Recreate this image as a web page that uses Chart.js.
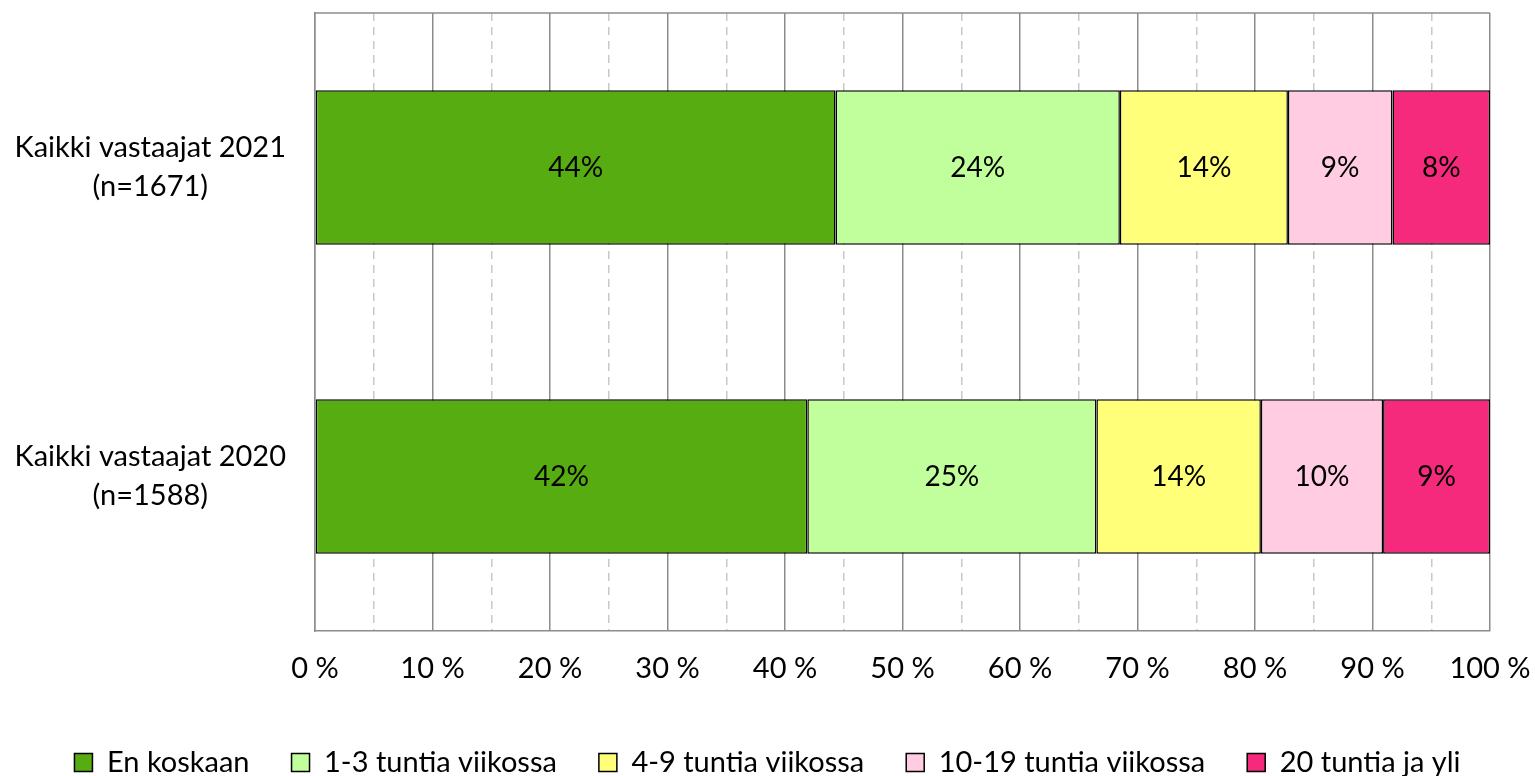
<!DOCTYPE html>
<html>
<head>
<meta charset="utf-8">
<script src="https://cdn.jsdelivr.net/npm/chart.js@4/dist/chart.umd.min.js"></script>
<style>
  html, body { margin: 0; padding: 0; background: #fff; overflow: hidden; }
  #wrap { width: 1535px; height: 776px; }
</style>
</head>
<body>
<div id="wrap"><canvas id="chart" width="1535" height="776"></canvas></div>
<script>
// Kategoriat (rivit)
const categories = [
  ["Kaikki vastaajat 2021", "(n=1671)"],
  ["Kaikki vastaajat 2020", "(n=1588)"],
];

// Sarjat
const seriesNames = [
  "En koskaan",
  "1-3 tuntia viikossa",
  "4-9 tuntia viikossa",
  "10-19 tuntia viikossa",
  "20 tuntia ja yli",
];
const enKoskaan = [44.3, 41.9];
const tunti1_3 = [24.2, 24.6];
const tunti4_9 = [14.3, 14.0];
const tunti10_19 = [8.9, 10.4];
const tunti20 = [8.3, 9.1];

const seriesColors = ["#56ac10", "#c0ff9b", "#ffff7a", "#ffcce1", "#f52a7c"];

const FONT = "Lato, 'Open Sans', sans-serif";

const datasets = [enKoskaan, tunti1_3, tunti4_9, tunti10_19, tunti20].map((d, i) => ({
  label: seriesNames[i],
  data: d,
  backgroundColor: seriesColors[i],
  borderColor: "#000",
  borderWidth: 1.5,
  borderSkipped: false,
  categoryPercentage: 1,
  barPercentage: 0.5,
}));

// Arvot palkkien keskelle
const barLabels = {
  id: "barLabels",
  afterDatasetsDraw(chart) {
    const ctx = chart.ctx;
    ctx.save();
    ctx.font = "28px " + FONT;
    ctx.fillStyle = "#000";
    ctx.textAlign = "center";
    ctx.textBaseline = "middle";
    chart.data.datasets.forEach((ds, i) => {
      chart.getDatasetMeta(i).data.forEach((bar, j) => {
        const p = bar.getCenterPoint();
        ctx.fillText(Math.round(ds.data[j]) + "%", p.x, p.y);
      });
    });
    ctx.restore();
  },
};

// Kuva-alueen yläreuna
const topBorder = {
  id: "topBorder",
  beforeDatasetsDraw(chart) {
    const { ctx, chartArea } = chart;
    ctx.save();
    ctx.strokeStyle = "#8c8c8c";
    ctx.lineWidth = 1.5;
    ctx.beginPath();
    ctx.moveTo(chartArea.left, chartArea.top);
    ctx.lineTo(chartArea.right, chartArea.top);
    ctx.stroke();
    ctx.restore();
  },
};

// Selite matalammaksi (väli selitteiden välillä pysyy leveänä)
const legendHeight = {
  id: "legendHeight",
  beforeLayout(chart) {
    const lg = chart.legend;
    if (!lg || lg._patched) return;
    const fit = lg.fit;
    lg.fit = function () {
      fit.call(this);
      this.height = 70;
    };
    lg._patched = true;
  },
};

new Chart(document.getElementById("chart"), {
  type: "bar",
  data: { labels: categories, datasets },
  options: {
    indexAxis: "y",
    responsive: false,
    animation: false,
    layout: { padding: { top: 13, right: 0, left: 0, bottom: 0 } },
    plugins: {
      tooltip: { enabled: false },
      legend: {
        position: "bottom",
        labels: {
          font: { family: FONT, size: 29 },
          color: "#000",
          boxWidth: 18,
          boxHeight: 18,
          padding: 42,
        },
      },
    },
    scales: {
      x: {
        stacked: true,
        min: 0,
        max: 100,
        afterFit(scale) {
          scale.height = 75;
          scale.paddingRight = 45;
        },
        ticks: {
          stepSize: 5,
          autoSkip: false,
          maxRotation: 0,
          color: "#000",
          font: { family: FONT, size: 29 },
          padding: 20,
          callback: (v) => (v % 10 === 0 ? v + " %" : ""),
        },
        grid: {
          drawTicks: false,
          lineWidth: 1.5,
          color: (c) => (c.tick && c.tick.value % 10 !== 0 ? "#c8c8c8" : "#8c8c8c"),
        },
        border: {
          display: true,
          color: "#8c8c8c",
          width: 1.5,
          dash: (c) => (c.tick && c.tick.value % 10 !== 0 ? [8, 6] : []),
        },
      },
      y: {
        stacked: true,
        afterFit(scale) {
          scale.width = 315;
          scale.paddingTop = 0;
          scale.paddingBottom = 0;
        },
        ticks: {
          color: "#000",
          font: { family: FONT, size: 29, lineHeight: 1.35 },
          padding: 21,
          crossAlign: "center",
        },
        grid: { display: false },
        border: { display: true, color: "#8c8c8c", width: 1.5 },
      },
    },
  },
  plugins: [barLabels, topBorder, legendHeight],
});
</script>
</body>
</html>
